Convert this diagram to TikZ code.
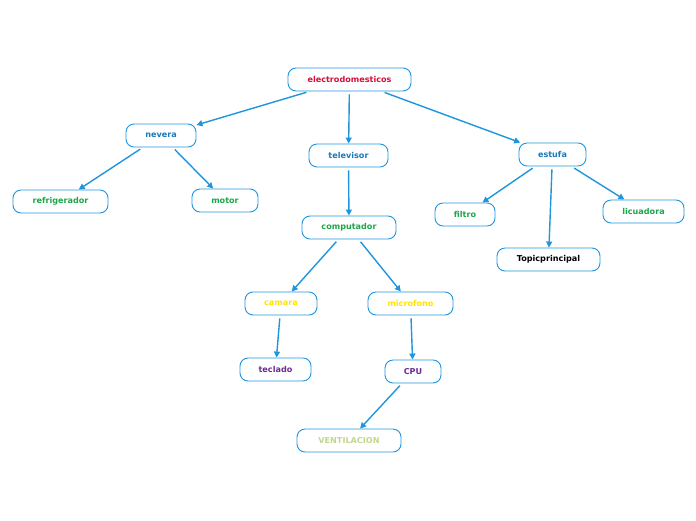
\documentclass[tikz,border=0pt]{standalone}
\usepackage{fontspec}
\setmainfont{DejaVu Sans}
\usetikzlibrary{arrows.meta}

\definecolor{edge}{HTML}{1E95DC}
\definecolor{tred}{HTML}{D3103C}
\definecolor{tblue}{HTML}{1C78B8}
\definecolor{tgreen}{HTML}{1AA64A}
\definecolor{tyellow}{HTML}{FFE400}
\definecolor{tpurple}{HTML}{6B2C91}
\definecolor{tolive}{HTML}{C2D68A}

\begin{document}
\begin{tikzpicture}[x=1pt,y=-1pt,
  topic/.style={draw=edge,line width=0.9pt,rounded corners=8pt,
    minimum height=23pt,inner sep=0pt,
    font=\fontsize{8.1}{9}\selectfont\bfseries},
  link/.style={draw=edge,line width=1.4pt,shorten <=3pt,
    -{Triangle[length=6pt,width=6pt]}}]

\useasboundingbox (0,0) rectangle (696,520);

% ---------------- ROOT ----------------
\node[topic,minimum width=123pt,text=tred] (electro) at (349.5,79.5) {electrodomesticos};

% ---------------- FIRST LEVEL ----------------
\node[topic,minimum width=70pt,text=tblue] (nevera) at (161,135.5) {nevera};
\node[topic,minimum width=79pt,text=tblue] (televisor) at (348.5,155.5) {televisor};
\node[topic,minimum width=67pt,text=tblue] (estufa) at (552.5,154.5) {estufa};

% ---------------- NEVERA ----------------
\node[topic,minimum width=95pt,text=tgreen] (refrigerador) at (60.5,201.5) {refrigerador};
\node[topic,minimum width=66pt,text=tgreen] (motor) at (225,200.5) {motor};

% ---------------- TELEVISOR ----------------
\node[topic,minimum width=94pt,text=tgreen] (computador) at (349,227.5) {computador};
\node[topic,minimum width=72pt,text=tyellow] (camara) at (281,303.5) {camara};
\node[topic,minimum width=85pt,text=tyellow] (microfono) at (410.5,303.5) {microfono};
\node[topic,minimum width=71pt,text=tpurple] (teclado) at (275.5,369.5) {teclado};
\node[topic,minimum width=56pt,text=tpurple] (cpu) at (413,371.5) {CPU};
\node[topic,minimum width=104pt,text=tolive] (ventilacion) at (349,440.5) {VENTILACION};

% ---------------- ESTUFA ----------------
\node[topic,minimum width=60pt,text=tgreen] (filtro) at (465,214.5) {filtro};
\node[topic,minimum width=81pt,text=tgreen] (licuadora) at (643.5,211.5) {licuadora};
\node[topic,minimum width=103pt,text=black] (topicprincipal) at (548.5,259.5) {Topicprincipal};

% ---------------- CONNECTORS ----------------
\draw[link] (electro) -- (nevera);
\draw[link] (electro) -- (televisor);
\draw[link] (electro) -- (estufa);
\draw[link] (nevera) -- (refrigerador);
\draw[link] (nevera) -- (motor);
\draw[link] (televisor) -- (computador);
\draw[link] (computador) -- (camara);
\draw[link] (computador) -- (microfono);
\draw[link] (camara) -- (teclado);
\draw[link] (microfono) -- (cpu);
\draw[link] (cpu) -- (ventilacion);
\draw[link] (estufa) -- (filtro);
\draw[link] (estufa) -- (topicprincipal);
\draw[link] (estufa) -- (licuadora);

\end{tikzpicture}
\end{document}
